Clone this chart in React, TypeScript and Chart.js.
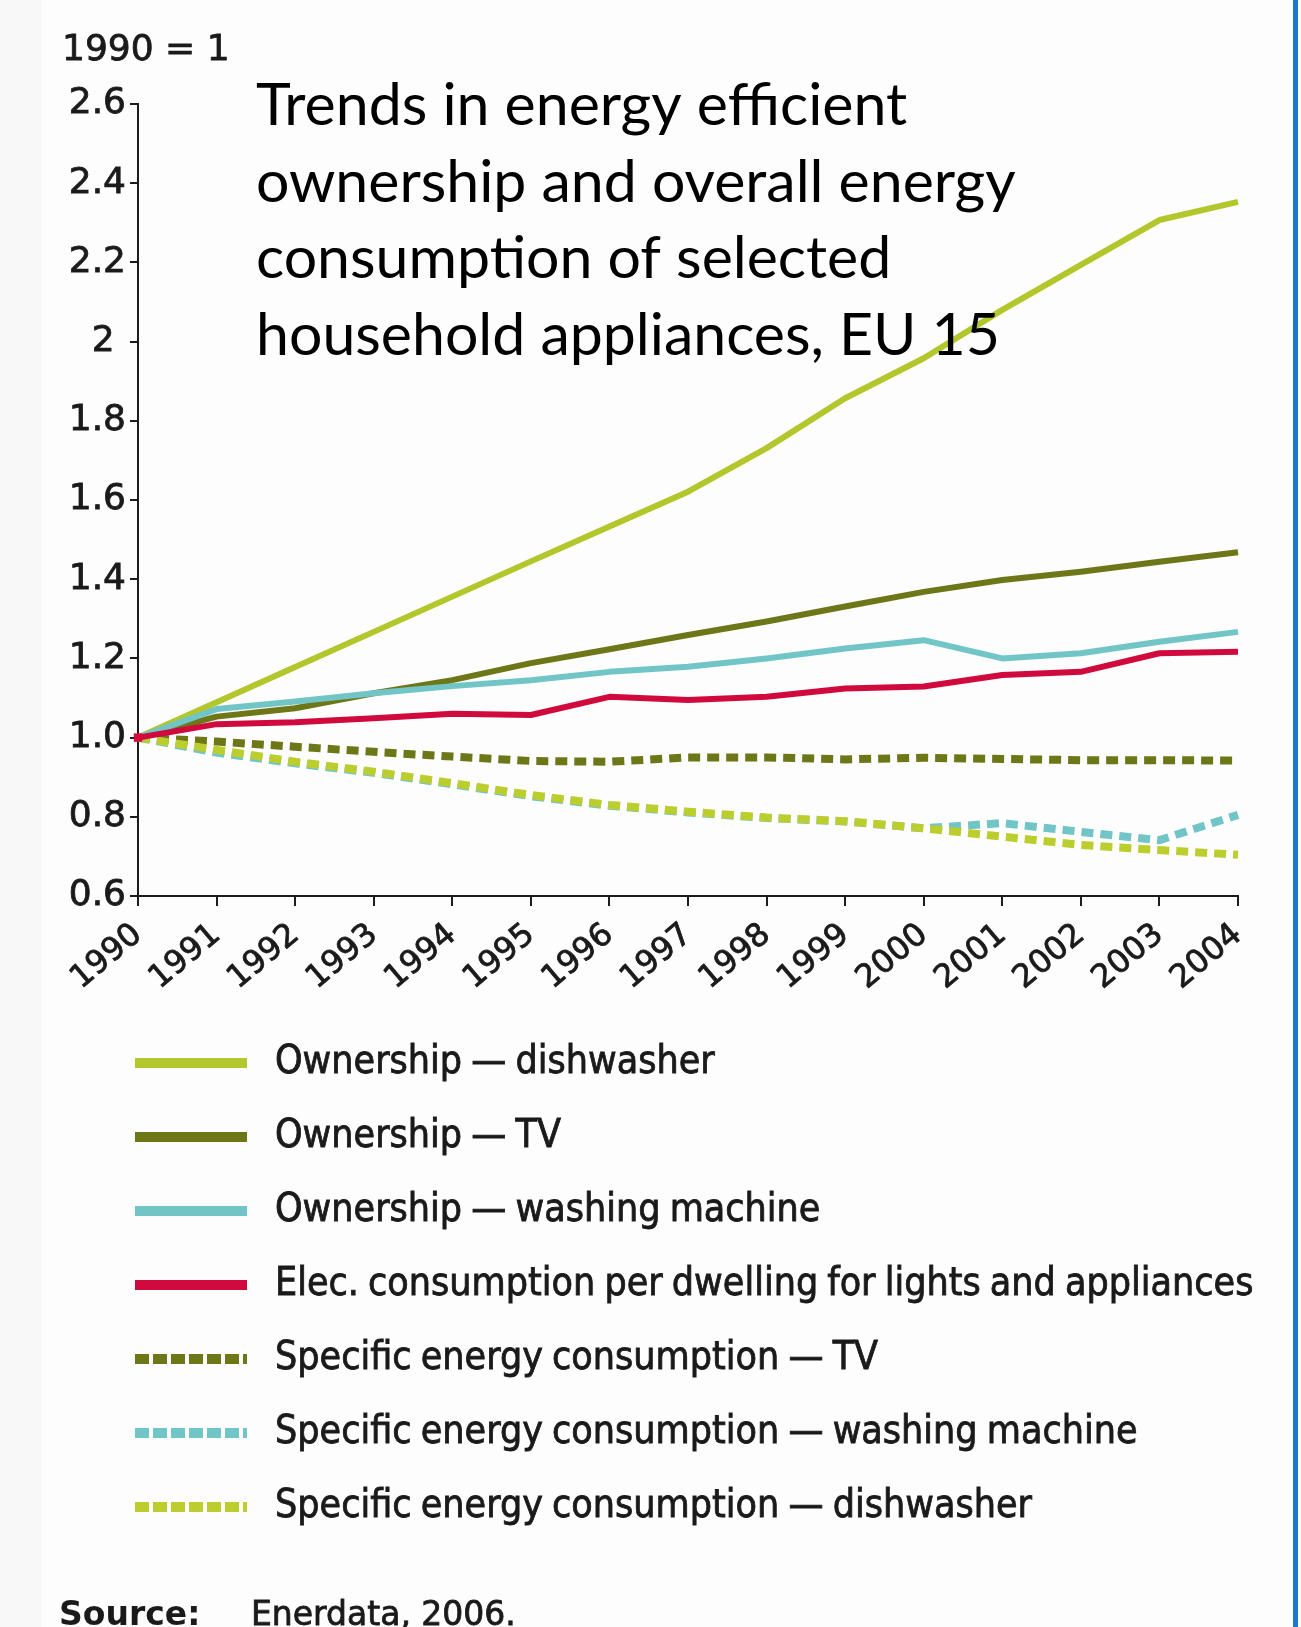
import { useEffect, useRef } from 'react';
import { Chart, registerables } from 'chart.js';

Chart.register(...registerables);

// Index values, 1990 = 1
const years = ['1990', '1991', '1992', '1993', '1994', '1995', '1996', '1997', '1998', '1999', '2000', '2001', '2002', '2003', '2004'];

const ownershipDishwasher = [1.0, 1.089, 1.178, 1.267, 1.356, 1.445, 1.533, 1.621, 1.731, 1.857, 1.958, 2.08, 2.194, 2.307, 2.353];
const ownershipTV = [1.0, 1.053, 1.074, 1.112, 1.145, 1.188, 1.223, 1.259, 1.293, 1.331, 1.368, 1.398, 1.419, 1.444, 1.468];
const ownershipWashing = [1.0, 1.072, 1.091, 1.112, 1.13, 1.145, 1.166, 1.179, 1.2, 1.225, 1.246, 1.2, 1.213, 1.242, 1.267];
const elecPerDwelling = [1.0, 1.034, 1.039, 1.049, 1.06, 1.057, 1.103, 1.095, 1.103, 1.124, 1.129, 1.158, 1.166, 1.213, 1.217];
const specificTV = [1.0, 0.99, 0.977, 0.964, 0.952, 0.941, 0.939, 0.95, 0.95, 0.945, 0.949, 0.946, 0.943, 0.943, 0.942];
const specificWashing = [1.0, 0.962, 0.935, 0.911, 0.882, 0.852, 0.828, 0.811, 0.797, 0.788, 0.771, 0.784, 0.762, 0.741, 0.805];
const specificDishwasher = [1.0, 0.969, 0.939, 0.914, 0.885, 0.855, 0.83, 0.813, 0.798, 0.789, 0.771, 0.75, 0.729, 0.716, 0.704];

const yTickLabels = ['0.6', '0.8', '1.0', '1.2', '1.4', '1.6', '1.8', '2 ', '2.2', '2.4', '2.6'];

const seriesNames = [
  'Ownership \u2014 dishwasher',
  'Ownership \u2014 TV',
  'Ownership \u2014 washing machine',
  'Elec. consumption per dwelling for lights and appliances',
  'Specific energy consumption \u2014 TV',
  'Specific energy consumption \u2014 washing machine',
  'Specific energy consumption \u2014 dishwasher',
];

const titleLines = [
  'Trends in energy efficient',
  'ownership and overall energy',
  'consumption of selected',
  'household appliances, EU 15',
];

const unitNote = '1990 = 1';
const sourceLabel = 'Source:';
const sourceText = 'Enerdata, 2006.';

const COLORS = {
  dishwasher: '#b3c62b',
  tv: '#6d7718',
  washing: '#72c5c7',
  elec: '#d10a3e',
};

const AXIS = '#1c1c1c';
const TEXT = '#1a1a1a';
const VERDANA = '"DejaVu Sans", Verdana, sans-serif';

// draw text with a hairline stroke so it reads a little heavier
function heavyText(ctx: CanvasRenderingContext2D, text: string, x: number, y: number, stroke = 0.8) {
  ctx.fillText(text, x, y);
  ctx.lineWidth = stroke;
  ctx.strokeStyle = ctx.fillStyle as string;
  ctx.strokeText(text, x, y);
}

const annotations = {
  id: 'annotations',
  beforeDraw(chart: any) {
    const { ctx, width, height } = chart;
    ctx.save();
    ctx.fillStyle = '#fdfdfd';
    ctx.fillRect(0, 0, width, height);
    ctx.fillStyle = '#f8f8f8';
    ctx.fillRect(0, 0, 42, height);
    ctx.restore();
  },
  afterDraw(chart: any) {
    const { ctx, height } = chart;
    ctx.save();

    // unit note above the value axis
    ctx.fillStyle = TEXT;
    ctx.textAlign = 'left';
    ctx.textBaseline = 'alphabetic';
    ctx.font = `36px ${VERDANA}`;
    heavyText(ctx, unitNote, 62, 60);

    // heading inside the plot
    ctx.fillStyle = '#000';
    ctx.font = '59px Lato, "Open Sans", sans-serif';
    titleLines.forEach((line, i) => {
      ctx.fillText(line, 256, 125 + i * 76.7);
    });

    // legend
    const datasets = chart.data.datasets;
    datasets.forEach((ds: any, row: number) => {
      const y = 1063 + row * 74;
      ctx.save();
      ctx.strokeStyle = ds.borderColor;
      ctx.lineWidth = 10;
      ctx.lineCap = 'butt';
      if (ds.borderDash && ds.borderDash.length) ctx.setLineDash([14, 4]);
      ctx.beginPath();
      ctx.moveTo(135, y);
      ctx.lineTo(247, y);
      ctx.stroke();
      ctx.restore();
      ctx.save();
      ctx.fillStyle = TEXT;
      ctx.textBaseline = 'middle';
      ctx.font = '39px "DejaVu Sans Condensed", "DejaVu Sans", sans-serif';
      (ctx as any).wordSpacing = '-2px';
      heavyText(ctx, ds.label, 275, y);
      ctx.restore();
    });

    // source line
    ctx.fillStyle = TEXT;
    ctx.textBaseline = 'alphabetic';
    ctx.font = `bold 33px ${VERDANA}`;
    ctx.fillText(sourceLabel, 59, 1625);
    ctx.font = `33px ${VERDANA}`;
    heavyText(ctx, sourceText, 251, 1625);

    // frame edge on the right
    ctx.fillStyle = '#1e77c9';
    ctx.fillRect(1293, 0, 5, height);
    ctx.restore();
  },
};

export default function App() {
  const canvasRef = useRef<HTMLCanvasElement | null>(null);

  useEffect(() => {
    const canvas = canvasRef.current;
    if (!canvas) return;

    const solid = (label: string, data: number[], color: string, order: number, extra: any = {}) => ({
      label,
      data,
      borderColor: color,
      backgroundColor: color,
      borderWidth: 6,
      pointRadius: 0,
      tension: 0,
      fill: false,
      borderJoinStyle: 'round',
      order,
      ...extra,
    });
    const dashed = (label: string, data: number[], color: string, order: number) => ({
      label,
      data,
      borderColor: color,
      backgroundColor: color,
      borderWidth: 8,
      borderDash: [12, 7],
      borderCapStyle: 'butt',
      pointRadius: 0,
      tension: 0,
      fill: false,
      order,
    });

    const chart = new Chart(canvas, {
      type: 'line',
      data: {
        labels: years,
        datasets: [
          solid(seriesNames[0], ownershipDishwasher, COLORS.dishwasher, 4),
          solid(seriesNames[1], ownershipTV, COLORS.tv, 5),
          solid(seriesNames[2], ownershipWashing, COLORS.washing, 3),
          solid(seriesNames[3], elecPerDwelling, COLORS.elec, 0, {
            pointRadius: years.map((_, i) => (i === 0 ? 6 : 0)),
            pointStyle: 'rect',
            pointBackgroundColor: COLORS.elec,
            pointBorderWidth: 0,
          }),
          dashed(seriesNames[4], specificTV, COLORS.tv, 6),
          dashed(seriesNames[5], specificWashing, COLORS.washing, 2),
          dashed(seriesNames[6], specificDishwasher, '#bccd2e', 1),
        ],
      },
      options: {
        animation: false,
        responsive: false,
        maintainAspectRatio: false,
        layout: { padding: { left: 0, right: 63, top: 104, bottom: 621 } },
        plugins: {
          legend: { display: false },
          tooltip: { enabled: false },
          title: { display: false },
        },
        scales: {
          x: {
            type: 'category',
            offset: false,
            grid: { drawOnChartArea: false, drawTicks: true, tickLength: 10, color: AXIS, lineWidth: 2 },
            border: { color: AXIS, width: 2 },
            ticks: {
              autoSkip: false,
              minRotation: 40,
              maxRotation: 40,
              color: TEXT,
              padding: 10,
              textStrokeColor: TEXT,
              textStrokeWidth: 0.8,
              font: { family: VERDANA, size: 32 },
            },
            afterFit: (scale: any) => {
              scale.height = 110;
            },
          },
          y: {
            min: 0.6,
            max: 2.6,
            ticks: {
              stepSize: 0.2,
              color: TEXT,
              padding: 4,
              textStrokeColor: TEXT,
              textStrokeWidth: 0.8,
              font: { family: VERDANA, size: 36 },
              callback: (_v: any, i: number) => yTickLabels[i],
            },
            grid: { drawOnChartArea: false, drawTicks: true, tickLength: 8, color: AXIS, lineWidth: 2 },
            border: { color: AXIS, width: 2 },
            afterFit: (scale: any) => {
              scale.width = 138;
            },
          },
        },
      },
      plugins: [annotations],
    } as any);

    return () => chart.destroy();
  }, []);

  return (
    <div style={{ position: 'absolute', left: 0, top: 0, width: 1301, height: 1627 }}>
      <canvas ref={canvasRef} width={1301} height={1627} style={{ display: 'block', width: 1301, height: 1627 }} />
    </div>
  );
}
